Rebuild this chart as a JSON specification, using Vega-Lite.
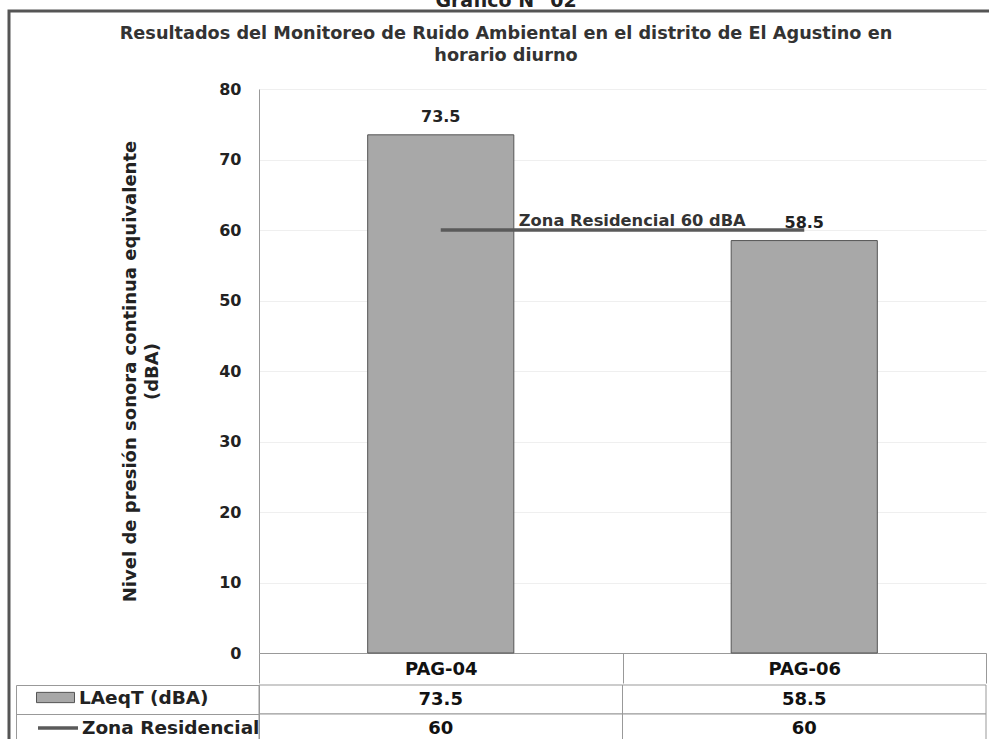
{
  "$schema": "https://vega.github.io/schema/vega-lite/v6.json",
  "background": "white",
  "padding": {"left": 7, "top": -8, "right": 0, "bottom": 0},
  "datasets": {
    "barras": [
      {"punto": "PAG-04", "serie": "LAeqT (dBA)", "valor": 73.5},
      {"punto": "PAG-06", "serie": "LAeqT (dBA)", "valor": 58.5}
    ],
    "limite": [
      {"punto": "PAG-04", "serie": "Zona Residencial", "valor": 60},
      {"punto": "PAG-06", "serie": "Zona Residencial", "valor": 60}
    ],
    "nota": [
      {"punto": "PAG-04", "valor": 60, "etiqueta": "Zona Residencial 60 dBA"}
    ],
    "tabla": [
      {"punto": "PAG-04", "serie": "LAeqT (dBA)", "valor": 73.5},
      {"punto": "PAG-06", "serie": "LAeqT (dBA)", "valor": 58.5},
      {"punto": "PAG-04", "serie": "Zona Residencial", "valor": 60},
      {"punto": "PAG-06", "serie": "Zona Residencial", "valor": 60}
    ]
  },
  "spacing": 0,
  "vconcat": [
    {
      "width": 727,
      "height": 564,
      "title": {
        "text": "Gráfico N° 02",
        "subtitle": ["Resultados del Monitoreo de Ruido Ambiental  en el distrito de El Agustino en", "horario diurno"],
        "anchor": "start",
        "align": "center",
        "frame": "group",
        "dx": 247,
        "offset": 16,
        "fontSize": 19,
        "font": "DejaVu Sans",
        "fontWeight": "bold",
        "color": "#222222",
        "subtitleFont": "DejaVu Sans",
        "subtitleFontSize": 17.7,
        "subtitleFontWeight": "bold",
        "subtitleLineHeight": 22,
        "subtitleColor": "#333333",
        "subtitlePadding": 14
      },
      "encoding": {
        "x": {
          "field": "punto",
          "type": "nominal",
          "scale": {"paddingInner": 0, "paddingOuter": 0},
          "axis": {
            "title": null,
            "labelAngle": 0,
            "tickBand": "extent",
            "tickSize": 30,
            "tickColor": "#999999",
            "domainColor": "#999999",
            "labelPadding": -23,
            "labelFont": "DejaVu Sans",
            "labelFontSize": 18,
            "labelFontWeight": "bold",
            "labelColor": "#111111"
          }
        }
      },
      "layer": [
        {
          "data": {"name": "barras"},
          "mark": {"type": "bar", "stroke": "#555555", "strokeWidth": 1, "width": {"band": 0.402}},
          "encoding": {
            "y": {
              "field": "valor",
              "type": "quantitative",
              "scale": {"domain": [0, 80], "nice": false},
              "axis": {
                "title": ["Nivel de presión sonora continua equivalente", "(dBA)"],
                "titleFont": "DejaVu Sans",
                "titleFontSize": 18,
                "titleFontWeight": "bold",
                "titleColor": "#222222",
                "titleLineHeight": 22,
                "titlePadding": 57,
                "values": [0, 10, 20, 30, 40, 50, 60, 70, 80],
                "ticks": false,
                "labelPadding": 18,
                "labelFont": "DejaVu Sans",
                "labelFontSize": 16,
                "labelFontWeight": "bold",
                "labelColor": "#222222",
                "gridColor": "#efefef",
                "domain": true,
                "domainColor": "#999999"
              }
            },
            "fill": {
              "field": "serie",
              "type": "nominal",
              "scale": {"domain": ["LAeqT (dBA)"], "range": ["#a8a8a8"]},
              "legend": {
                "title": null,
                "orient": "none",
                "legendX": -223,
                "legendY": 589,
                "padding": 0,
                "symbolType": "M-1,-0.27H1V0.27H-1Z",
                "symbolSize": 1444,
                "symbolStrokeColor": "#555555",
                "symbolStrokeWidth": 1,
                "labelFont": "DejaVu Sans",
                "labelFontSize": 18.5,
                "labelFontWeight": "bold",
                "labelColor": "#222222",
                "labelOffset": 4,
                "labelLimit": 300
              }
            }
          }
        },
        {
          "data": {"name": "barras"},
          "mark": {"type": "text", "dy": -10, "baseline": "bottom", "font": "DejaVu Sans", "fontSize": 16, "fontWeight": "bold", "color": "#222222"},
          "encoding": {
            "y": {"field": "valor", "type": "quantitative"},
            "text": {"field": "valor", "type": "quantitative", "format": ".1f"}
          }
        },
        {
          "data": {"name": "limite"},
          "mark": {"type": "line", "strokeWidth": 3.5},
          "encoding": {
            "y": {"field": "valor", "type": "quantitative"},
            "stroke": {
              "field": "serie",
              "type": "nominal",
              "scale": {"domain": ["Zona Residencial"], "range": ["#5a5a5a"]},
              "legend": {
                "title": null,
                "orient": "none",
                "legendX": -223,
                "legendY": 617,
                "padding": 0,
                "symbolType": "stroke",
                "symbolSize": 1600,
                "symbolStrokeWidth": 3.5,
                "labelFont": "DejaVu Sans",
                "labelFontSize": 18.5,
                "labelFontWeight": "bold",
                "labelColor": "#222222",
                "labelOffset": 2,
                "labelLimit": 300
              }
            }
          }
        },
        {
          "data": {"name": "nota"},
          "mark": {"type": "text", "align": "left", "baseline": "alphabetic", "dx": 5, "dy": -4, "font": "DejaVu Sans", "fontSize": 16.3, "fontWeight": "bold", "color": "#333333"},
          "encoding": {
            "x": {"field": "punto", "type": "nominal", "bandPosition": 0.701},
            "y": {"field": "valor", "type": "quantitative"},
            "text": {"field": "etiqueta"}
          }
        },
        {
          "data": {"name": "nota"},
          "mark": {"type": "text", "text": ""},
          "encoding": {
            "x": {"field": "punto", "type": "nominal"},
            "y": {"field": "valor", "type": "quantitative"},
            "color": {
              "field": "valor",
              "type": "quantitative",
              "scale": {"range": ["transparent", "transparent"]},
              "legend": {
                "title": null,
                "orient": "none",
                "direction": "horizontal",
                "legendX": -250,
                "legendY": -78,
                "padding": 0,
                "gradientLength": 1000,
                "gradientThickness": 760,
                "gradientStrokeWidth": 0,
                "labelOpacity": 0,
                "strokeColor": "#555555",
                "encode": {"legend": {"update": {"strokeWidth": {"value": 3}}}}
              }
            }
          }
        }
      ]
    },
    {
      "width": 727,
      "height": 58,
      "data": {"name": "tabla"},
      "encoding": {
        "x": {"field": "punto", "type": "nominal", "axis": null, "scale": {"paddingInner": 0, "paddingOuter": 0}}
      },
      "layer": [
        {
          "mark": {"type": "rect", "fill": "white", "stroke": "#999999", "strokeWidth": 1},
          "encoding": {
            "y": {
              "field": "serie",
              "type": "nominal",
              "scale": {"paddingInner": 0, "paddingOuter": 0},
              "axis": {"title": null, "labels": false, "tickBand": "extent", "tickSize": 243, "tickColor": "#999999", "domainColor": "#999999"}
            }
          }
        },
        {
          "mark": {"type": "text", "font": "DejaVu Sans", "fontSize": 18, "fontWeight": "bold", "color": "#111111"},
          "encoding": {
            "y": {
              "field": "serie",
              "type": "nominal",
              "scale": {"paddingInner": 0, "paddingOuter": 0},
              "axis": {"orient": "left", "offset": 243, "title": null, "labels": false, "ticks": false, "domainColor": "#999999"}
            },
            "text": {"field": "valor", "type": "quantitative"}
          }
        }
      ],
      "resolve": {"scale": {"y": "independent"}, "axis": {"y": "independent"}}
    }
  ],
  "config": {
    "font": "DejaVu Sans",
    "view": {"stroke": null}
  }
}
